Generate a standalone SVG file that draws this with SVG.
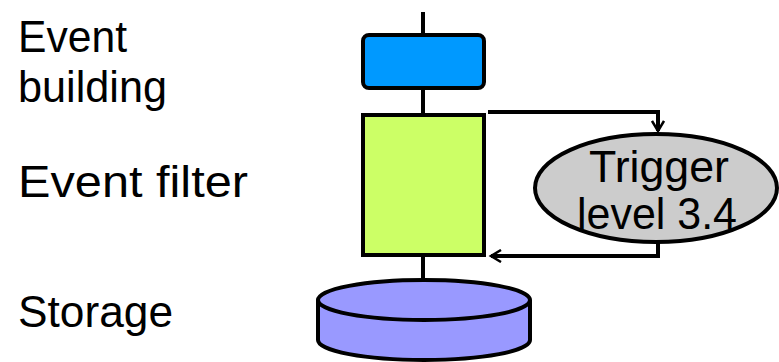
<svg xmlns="http://www.w3.org/2000/svg" width="779" height="362" viewBox="0 0 779 362">
<style>
.lbl{font-family:"Liberation Sans","DejaVu Sans",sans-serif;font-size:44px;fill:#000}
.st{stroke:#000;stroke-width:4;}
.ln{stroke:#000;stroke-width:4;fill:none}
</style>
<defs>
<marker id="arr" markerWidth="14" markerHeight="14" refX="11" refY="7" orient="auto" markerUnits="userSpaceOnUse">
<path d="M1,1 L11,7 L1,13" fill="none" stroke="#000" stroke-width="2.5"/>
</marker>
</defs>
<rect width="779" height="362" fill="#fff"/>
<g id="labels">
<text class="lbl" x="18" y="52" textLength="109" lengthAdjust="spacingAndGlyphs">Event</text>
<text class="lbl" x="18" y="102" textLength="149" lengthAdjust="spacingAndGlyphs">building</text>
<text class="lbl" x="18" y="197" textLength="230" lengthAdjust="spacingAndGlyphs">Event filter</text>
<text class="lbl" x="18" y="327" textLength="155" lengthAdjust="spacingAndGlyphs">Storage</text>
</g>
<g id="connectors">
<line class="ln" x1="423" y1="12" x2="423" y2="36"/>
<line class="ln" x1="423" y1="88" x2="423" y2="115"/>
<line class="ln" x1="423" y1="255" x2="423" y2="282"/>
<path class="ln" d="M488,112 H658 V131" marker-end="url(#arr)"/>
<path class="ln" d="M658,240 V256 H491" marker-end="url(#arr)"/>
</g>
<g id="event-building">
<rect class="st" x="363" y="35" width="121" height="53" rx="6" fill="#0099FF"/>
</g>
<g id="event-filter">
<rect class="st" x="363" y="115" width="121" height="140" fill="#CCFF66"/>
</g>
<g id="storage">
<path class="st" d="M318,300 V340 A106,20 0 0 0 530,340 V300" fill="#9999FF"/>
<ellipse class="st" cx="424" cy="300" rx="106" ry="20" fill="#9999FF"/>
</g>
<g id="trigger">
<ellipse class="st" cx="656" cy="188" rx="121" ry="54" fill="#CCCCCC"/>
<text class="lbl" x="659" y="182" text-anchor="middle" textLength="140" lengthAdjust="spacingAndGlyphs">Trigger</text>
<text class="lbl" x="657" y="229" text-anchor="middle" textLength="160" lengthAdjust="spacingAndGlyphs">level 3.4</text>
</g>
</svg>
